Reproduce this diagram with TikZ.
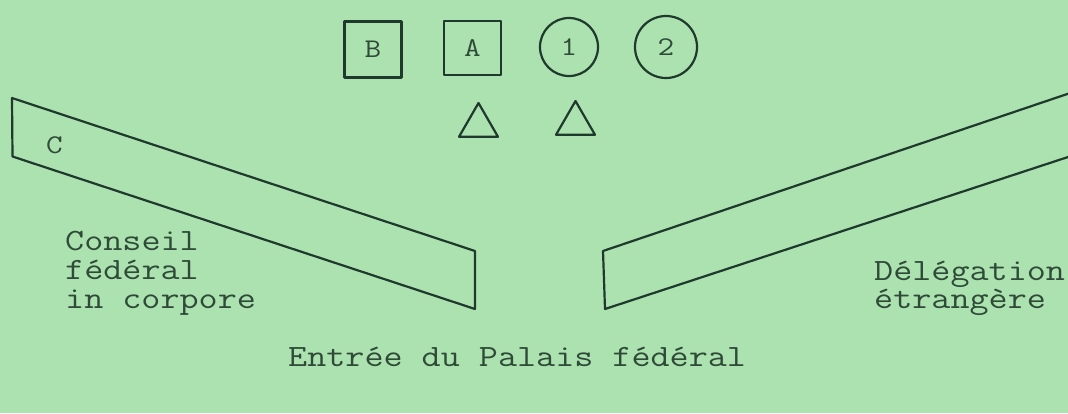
\documentclass[tikz,border=0pt]{standalone}
\usepackage{fontspec}
\newfontfamily\tw[FakeStretch=1.195]{Latin Modern Mono}
\usetikzlibrary{shapes.geometric}
\definecolor{bg}{HTML}{ACE2B0}
\definecolor{ink}{HTML}{1F3A2C}
\definecolor{txt}{HTML}{2F4B38}
\tikzset{
  ln/.style={draw=ink, line width=2.2pt, line join=round},
  sq/.style={ln, rectangle, minimum width=57pt, minimum height=56pt, inner sep=0pt,
    text=txt, font=\tw\fontsize{27}{27}\selectfont},
  rd/.style={ln, circle, inner sep=0pt, text=txt, font=\tw\fontsize{27}{27}\selectfont},
  tri/.style={ln, regular polygon, regular polygon sides=3, minimum size=45pt, inner sep=0pt},
  lbl/.style={text=txt, font=\tw\fontsize{31}{29}\selectfont, inner sep=0pt,
    align=left},
}
\begin{document}
\begin{tikzpicture}[x=1pt,y=-1pt]
\fill[bg] (0,0) rectangle (1068,413);
\useasboundingbox (0,0) rectangle (1068,413);
\clip (0,0) rectangle (1068,413);
% top markers
\node[sq] (B) at (373,49.5) {B};
\node[sq, minimum height=54pt] (A) at (472.5,48) {A};
\node[rd, minimum size=58pt] (one) at (569,47) {1};
\node[rd, minimum size=62pt] (two) at (666,47) {2};
\node[tri] (t1) at (478.5,125.5) {};
\node[tri] (t2) at (575.5,123.5) {};
% left bench
\draw[ln] (12,98) -- (12.5,156.5) -- (475,309) -- (475,251) -- cycle;
\node[text=txt, font=\tw\fontsize{27}{27}\selectfont, inner sep=0pt, anchor=base west] (C) at (46,153) {C};
% right bench
\draw[ln] (1090,86.3) -- (603,251) -- (605,309) -- (1090,149.8);
% labels
\node[lbl, anchor=base west] (cf1) at (65,250) {Conseil};
\node[lbl, anchor=base west] (cf2) at (65,279) {f\'ed\'eral};
\node[lbl, anchor=base west] (cf3) at (65,308) {in corpore};
\node[lbl, anchor=base west] (de1) at (874,280) {D\'el\'egation};
\node[lbl, anchor=base west] (de2) at (874,308) {\'etrang\`ere};
\node[lbl, anchor=base west] (ent) at (288,366) {Entr\'ee du Palais f\'ed\'eral};
\end{tikzpicture}
\end{document}
